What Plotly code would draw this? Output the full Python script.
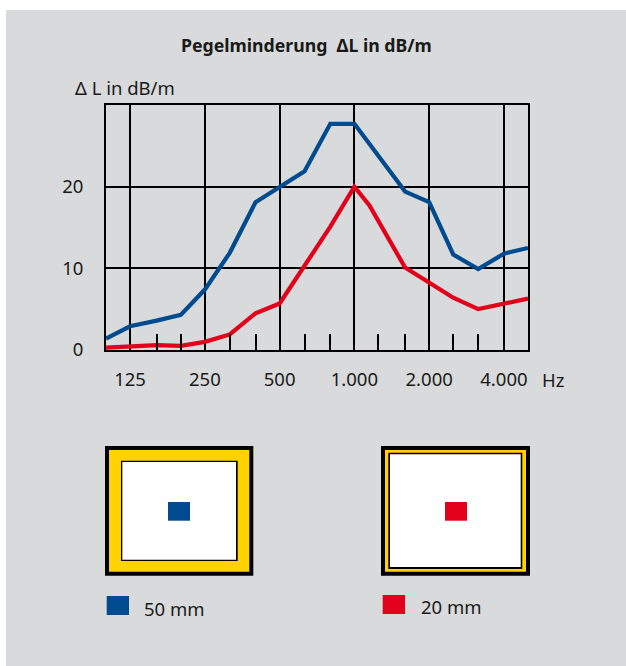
import plotly.graph_objects as go

# ---------------- data ----------------
blue_freq = [100, 125, 160, 200, 250, 315, 400, 500, 630, 800, 1000, 1600, 2000, 2500, 3150, 4000, 5000]
blue_vals = [1.4, 2.9, 3.6, 4.3, 7.4, 11.9, 18.1, 20.0, 21.9, 27.7, 27.7, 19.4, 18.1, 11.7, 9.9, 11.8, 12.5]

red_freq = [100, 125, 160, 200, 250, 315, 400, 500, 630, 800, 1000, 1150, 1600, 2000, 2500, 3150, 5000]
red_vals = [0.3, 0.4, 0.6, 0.5, 1.0, 1.9, 4.5, 5.7, 10.3, 15.1, 20.0, 17.7, 10.1, 8.3, 6.4, 5.0, 6.3]

major_ticks = [125, 250, 500, 1000, 2000, 4000]
major_labels = ["125", "250", "500", "1.000", "2.000", "4.000"]
minor_ticks = [160, 200, 315, 400, 630, 800, 1250, 1600, 2500, 3150]
y_ticks = [0, 10, 20]

series_names = ["50 mm", "20 mm"]
BLUE = "#004a8f"
RED = "#e2001a"
YELLOW = "#ffd200"
GRAY = "#d9dadb"

W, H = 626, 666
L, R, T, B = 106, 528, 105, 350  # plot area in px


def px(x):
    return (x - L) / (R - L)


def py(y):
    return (B - y) / (B - T)


FONT = "Noto Sans"
FS = 18.5
TXT = "#1a1a1a"

fig = go.Figure()
fig.add_trace(go.Scatter(x=blue_freq, y=blue_vals, mode="lines", name=series_names[0],
                         line=dict(color=BLUE, width=4.2), showlegend=False, hoverinfo="skip"))
fig.add_trace(go.Scatter(x=red_freq, y=red_vals, mode="lines", name=series_names[1],
                         line=dict(color=RED, width=4.2), showlegend=False, hoverinfo="skip"))

shapes = []
# white margins top/left
shapes.append(dict(type="rect", xref="paper", yref="paper", x0=px(0), x1=px(W), y0=py(0), y1=py(10),
                   fillcolor="white", line_width=0, layer="below"))
shapes.append(dict(type="rect", xref="paper", yref="paper", x0=px(0), x1=px(6), y0=py(0), y1=py(H),
                   fillcolor="white", line_width=0, layer="below"))


def rect(x0, y0, x1, y1, color):
    shapes.append(dict(type="rect", xref="paper", yref="paper", x0=px(x0), x1=px(x1),
                       y0=py(y1), y1=py(y0), fillcolor=color, line_width=0))


# left section diagram (50 mm)
rect(105, 446, 253.3, 575.7, "black")
rect(109, 450, 249.3, 571.7, YELLOW)
rect(121, 460.7, 237.7, 561, "black")
rect(122.3, 462, 236, 559.7, "white")
rect(168, 502, 190, 520.7, BLUE)
rect(106.7, 596, 129, 615, BLUE)
# right section diagram (20 mm)
rect(381, 446, 530, 575.7, "black")
rect(385, 450, 526, 571.7, YELLOW)
rect(388.3, 452.7, 522.3, 569, "black")
rect(390, 454.3, 520.7, 567, "white")
rect(445, 502, 467, 520.7, RED)
rect(382.7, 595, 405, 614, RED)

annotations = [
    dict(text="<b>Pegelminderung  ΔL in dB/m</b>", x=px(306), y=py(45), xref="paper", yref="paper",
         showarrow=False, font=dict(family=FONT, size=17.7, color=TXT), xanchor="center", yanchor="middle"),
    dict(text="Δ L in dB/m", x=px(73), y=py(87), xref="paper", yref="paper",
         showarrow=False, font=dict(family=FONT, size=FS, color=TXT), xanchor="left", yanchor="middle"),
    dict(text="Hz", x=px(540), y=py(379), xref="paper", yref="paper",
         showarrow=False, font=dict(family=FONT, size=FS, color=TXT), xanchor="left", yanchor="middle"),
    dict(text=series_names[0], x=px(142), y=py(608), xref="paper", yref="paper",
         showarrow=False, font=dict(family=FONT, size=FS, color=TXT), xanchor="left", yanchor="middle"),
    dict(text=series_names[1], x=px(419), y=py(606), xref="paper", yref="paper",
         showarrow=False, font=dict(family=FONT, size=FS, color=TXT), xanchor="left", yanchor="middle"),
]

fig.update_layout(
    width=W, height=H,
    margin=dict(l=L, r=W - R, t=T, b=H - B, pad=0),
    paper_bgcolor=GRAY, plot_bgcolor=GRAY,
    shapes=shapes, annotations=annotations,
    font=dict(family=FONT, size=FS, color=TXT),
    showlegend=False,
)
fig.update_xaxes(
    type="log", range=[2, 3.69897], tickvals=major_ticks, ticktext=major_labels,
    showgrid=True, gridcolor="black", gridwidth=2,
    showline=True, linecolor="black", linewidth=2, mirror=True,
    ticks="", ticklabelstandoff=12, zeroline=False,
    minor=dict(tickvals=minor_ticks, ticks="inside", ticklen=16, tickcolor="black", tickwidth=2, showgrid=False),
)
fig.update_yaxes(
    range=[0, 30], tickvals=y_ticks,
    showgrid=True, gridcolor="black", gridwidth=2,
    showline=True, linecolor="black", linewidth=2, mirror=True,
    ticks="", ticklabelstandoff=17, zeroline=False,
)

fig.write_html("out.html", config={"displayModeBar": False},
               post_script="document.body.style.margin='0';document.body.style.overflow='hidden';")
